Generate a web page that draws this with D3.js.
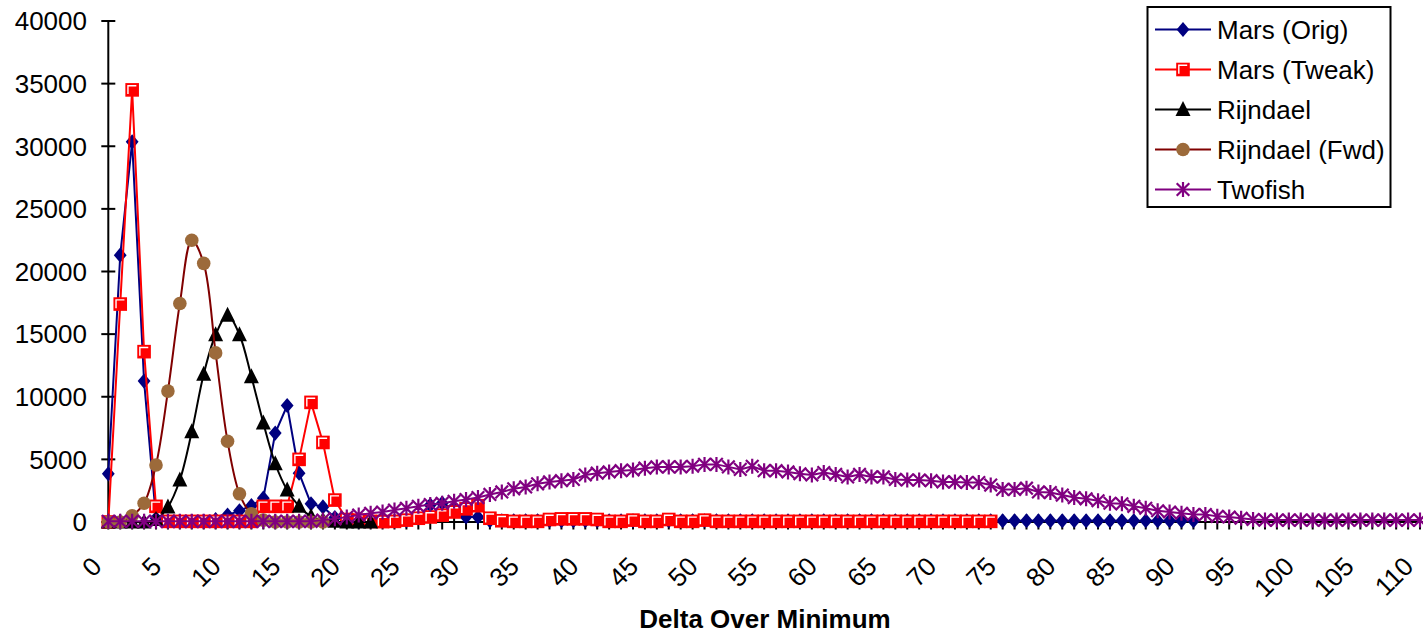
<!DOCTYPE html>
<html><head><meta charset="utf-8">
<script src="https://cdn.jsdelivr.net/npm/d3@7/dist/d3.min.js"></script>
<style>
html,body{margin:0;padding:0;background:#fff;}
svg text{font-family:"Liberation Sans",Arial,sans-serif;fill:#000;}
</style></head>
<body><svg id="c" width="1423" height="634"></svg>
<script>
// ---- data ----
const categories = d3.range(0, 111); // category axis 0..110
const xTickLabels = ["0","5","10","15","20","25","30","35","40","45","50","55","60","65","70","75","80","85","90","95","100","105","110"];
const yTickValues = [0,5000,10000,15000,20000,25000,30000,35000,40000];
const seriesNames = ["Mars (Orig)","Mars (Tweak)","Rijndael","Rijndael (Fwd)","Twofish"];

const marsOrig = [3850,21300,30350,11250,300,50,50,50,50,200,
  550,900,1300,1900,7100,9300,3900,1450,1200,350,
  100,50,50,50,50,100,300,1350,1500,1000,
  400,400,100,100,100,100,100,100,100,100,
  100,100,100,100,100,100,100,100,100,100,
  100,100,100,100,100,100,100,100,100,100,
  100,100,100,100,100,100,100,100,100,100,
  100,100,100,100,100,100,100,100,100,100,
  100,100,100,100,100,100,100,100,100,100,
  100,100];
const marsTweak = [0,17400,34500,13600,1250,50,50,50,50,50,
  50,50,50,1250,1250,1250,5000,9550,6350,1750,
  200,150,50,30,50,150,300,400,550,800,
  1050,1300,300,100,50,50,50,200,250,250,
  250,200,50,50,150,50,50,200,50,50,
  150,50,50,50,50,50,50,50,50,50,
  50,50,50,50,50,50,50,50,50,50,
  50,50,50,50,50];
const rijndael = [0,0,0,0,200,1200,3350,7200,11800,14950,
  16500,14950,11600,7900,4650,2550,1250,450,150,50,
  0,0,0];
const rijndaelFwd = [0,0,500,1500,4550,10450,17450,22500,20650,13500,
  6450,2250,650,150,0,0,0,0,0];
const twofish = [50,50,50,50,50,50,50,50,50,50,
  50,50,50,50,50,50,50,50,150,250,
  400,550,700,800,950,1100,1250,1400,1500,1650,
  1800,1950,2200,2400,2650,2800,3050,3200,3300,3400,
  3750,3900,4000,4100,4150,4300,4400,4400,4400,4450,
  4600,4600,4400,4200,4450,4100,4100,4000,3850,3750,
  3950,3800,3600,3800,3600,3600,3400,3350,3350,3300,
  3200,3200,3150,3150,2950,2600,2600,2700,2400,2350,
  2150,1950,1850,1700,1500,1450,1250,1100,900,800,
  700,600,600,450,400,300,200,150,150,150,
  150,150,150,150,150,150,150,150,150,150,
  150];

// ---- chart ----
const svg = d3.select("#c");
const x = d3.scalePoint().domain(categories).range([108.3, 1420]);
const y = d3.scaleLinear().domain([0, 40000]).range([522, 21]);

const styles = [
  {data: marsOrig, color: "#000080", marker: "diamond", curve: d3.curveLinear},
  {data: marsTweak, color: "#FF0000", marker: "square", curve: d3.curveLinear},
  {data: rijndael, color: "#000000", marker: "triangle", curve: d3.curveCatmullRom.alpha(0.5)},
  {data: rijndaelFwd, color: "#800000", marker: "circle", curve: d3.curveCatmullRom.alpha(0.5)},
  {data: twofish, color: "#800080", marker: "star", curve: d3.curveLinear}
];

function drawMarker(g, type) {
  if (type === "diamond") {
    g.append("path").attr("d", "M0,-7.6L6.4,0L0,7.6L-6.4,0Z").attr("fill", "#000080");
  } else if (type === "square") {
    g.append("rect").attr("x", -6.8).attr("y", -6.8).attr("width", 13.6).attr("height", 13.6).attr("fill", "#FF0000");
    g.append("path").attr("d", "M-4.2,4.2V-4.2H4.2").attr("fill", "none").attr("stroke", "#fff").attr("stroke-width", 1.4);
  } else if (type === "triangle") {
    g.append("path").attr("d", "M0,-8.5L7.5,6.5L-7.5,6.5Z").attr("fill", "#000");
  } else if (type === "circle") {
    g.append("circle").attr("r", 6.8).attr("fill", "#9C6A3A");
  } else if (type === "star") {
    g.append("path").attr("d", "M0,-7.5V7.5M-6.3,-6.3L6.3,6.3M-6.3,6.3L6.3,-6.3").attr("fill", "none")
      .attr("stroke", "#800080").attr("stroke-width", 2.2);
  }
}

// axes
const yAxisG = svg.append("g").attr("transform", "translate(108.3,0)");
yAxisG.append("line").attr("x1", 0).attr("x2", 0).attr("y1", y(40000)).attr("y2", y(0)).attr("stroke", "#000").attr("stroke-width", 2);
yAxisG.selectAll("line.t").data(yTickValues).join("line").attr("class", "t")
  .attr("x1", -7).attr("x2", 7).attr("y1", d => y(d)).attr("y2", d => y(d))
  .attr("stroke", "#000").attr("stroke-width", 2);
svg.selectAll("text.yl").data(yTickValues).join("text").attr("class", "yl")
  .attr("x", 87).attr("y", d => y(d) + 9.3).attr("text-anchor", "end")
  .attr("font-size", 26).text(d => d);

const xAxisG = svg.append("g");
xAxisG.append("line").attr("x1", x(0)).attr("x2", 1423).attr("y1", y(0)).attr("y2", y(0)).attr("stroke", "#000").attr("stroke-width", 2);
xAxisG.selectAll("line.t").data(categories).join("line").attr("class", "t")
  .attr("x1", d => x(d)).attr("x2", d => x(d)).attr("y1", y(0) - 7.5).attr("y2", y(0) + 7.5)
  .attr("stroke", "#000").attr("stroke-width", 2);
svg.selectAll("text.xl").data(xTickLabels).join("text").attr("class", "xl")
  .attr("text-anchor", "end").attr("font-size", 26)
  .attr("transform", d => `translate(${x(+d) - 5},568) rotate(-45)`)
  .text(d => d);

svg.append("text").attr("x", 765).attr("y", 628).attr("text-anchor", "middle")
  .attr("font-size", 26).attr("font-weight", "bold").text("Delta Over Minimum");

// series
styles.forEach(s => {
  const pts = s.data.map((v, i) => [x(categories[i]), y(v)]);
  svg.append("path").attr("d", d3.line().curve(s.curve)(pts))
    .attr("fill", "none").attr("stroke", s.color).attr("stroke-width", 2);
  const mg = svg.append("g");
  pts.forEach(p => {
    const g = mg.append("g").attr("transform", `translate(${p[0]},${p[1]})`);
    drawMarker(g, s.marker);
  });
});

// legend
const lg = svg.append("g");
lg.append("rect").attr("x", 1147.5).attr("y", 7).attr("width", 243).attr("height", 200)
  .attr("fill", "#fff").attr("stroke", "#000").attr("stroke-width", 2);
styles.forEach((s, i) => {
  const cy = 29.5 + i * 40;
  lg.append("line").attr("x1", 1155).attr("x2", 1211).attr("y1", cy).attr("y2", cy)
    .attr("stroke", s.color).attr("stroke-width", 2);
  const g = lg.append("g").attr("transform", `translate(1183,${cy})`);
  drawMarker(g, s.marker);
  lg.append("text").attr("x", 1217).attr("y", cy + 9.3).attr("font-size", 26).text(seriesNames[i]);
});
</script></body></html>
